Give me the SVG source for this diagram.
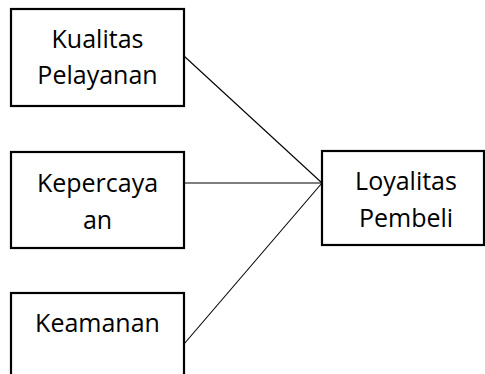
<svg xmlns="http://www.w3.org/2000/svg" width="485" height="374" viewBox="0 0 485 374">
<style>
.box{fill:#fff;stroke:#000;stroke-width:2.2}
.t{font-family:"Open Sans","Liberation Sans",sans-serif;font-size:25px;fill:#000;text-anchor:middle}
.c{stroke:#000;stroke-width:1.1;fill:none}
</style>
<rect width="485" height="374" fill="#fff"/>
<g id="connectors">
<line class="c" x1="184" y1="56" x2="322" y2="183"/>
<line class="c" x1="184" y1="183" x2="322" y2="183"/>
<line class="c" x1="184" y1="344" x2="322" y2="183"/>
</g>
<g id="kualitas">
<rect class="box" x="11" y="9" width="173" height="97"/>
<text class="t" x="97.5" y="48">Kualitas</text>
<text class="t" x="97.5" y="84">Pelayanan</text>
</g>
<g id="kepercayaan">
<rect class="box" x="11" y="152" width="173" height="96"/>
<text class="t" x="97.5" y="192">Kepercaya</text>
<text class="t" x="97.5" y="229">an</text>
</g>
<g id="keamanan">
<rect class="box" x="11" y="293" width="173" height="100"/>
<text class="t" x="97.5" y="332">Keamanan</text>
</g>
<g id="loyalitas">
<rect class="box" x="322" y="151" width="162" height="94"/>
<text class="t" x="406" y="190">Loyalitas</text>
<text class="t" x="406" y="227">Pembeli</text>
</g>
</svg>
